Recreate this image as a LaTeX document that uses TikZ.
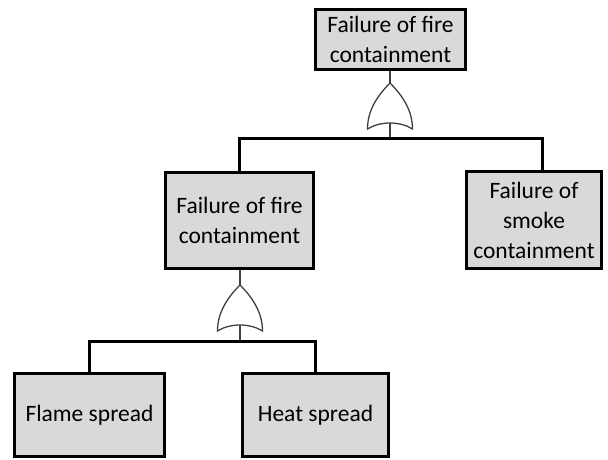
\documentclass[tikz,border=0pt]{standalone}
\usepackage{fontspec}
\setmainfont{Carlito}
\usetikzlibrary{calc,positioning}
\definecolor{boxgray}{HTML}{D9D9D9}
\definecolor{gatecol}{HTML}{404040}

\begin{document}
\begin{tikzpicture}[x=1pt, y=-1pt,
  evt/.style={draw, line width=3pt, fill=boxgray, align=center, inner sep=0pt,
    font=\fontsize{23.5}{30}\selectfont},
  bus/.style={line width=3pt},
  gl/.style={draw=gatecol, line width=1.3pt},
  orgate/.pic={
    \draw[gl] (0,0) .. controls (-12,12) and (-22.5,27) .. (-22.5,46)
      .. controls (-10,38) and (10,38) .. (22.5,46)
      .. controls (22.5,27) and (12,12) .. cycle;
    \coordinate (-in) at (0,0);
    \coordinate (-tail) at (0,40);
  }]
\useasboundingbox (0,0) rectangle (608,459);

\node[evt, minimum width=150, minimum height=60] (top) at (390.5,39.5) {Failure of fire\\containment};
\node[evt, minimum width=148, minimum height=96] (fireC) at (239.5,220.5) {Failure of fire\\containment};
\node[evt, minimum width=135, minimum height=97] (smokeC) at (534,220) {Failure of\\smoke\\containment};
\node[evt, minimum width=150, minimum height=83] (flame) at (89.5,415) {Flame spread};
\node[evt, minimum width=146, minimum height=83] (heat) at (315.5,415) {Heat spread};

% gates
\pic (g1) at (390,83) {orgate};
\pic (g2) at (240,285) {orgate};
\coordinate (j1) at (390,138);
\coordinate (j2) at (240,341);

\draw[gl] (g1-in |- top.south) -- (g1-in);
\draw[gl] (g1-tail) -- (j1);
\draw[gl] (g2-in |- fireC.south) -- (g2-in);
\draw[gl] (g2-tail) -- (j2);

\draw[bus] (fireC.north) |- (j1) -| ([xshift=8pt]smokeC.north);
\draw[bus] (flame.north) |- (j2) -| (heat.north);
\end{tikzpicture}
\end{document}
